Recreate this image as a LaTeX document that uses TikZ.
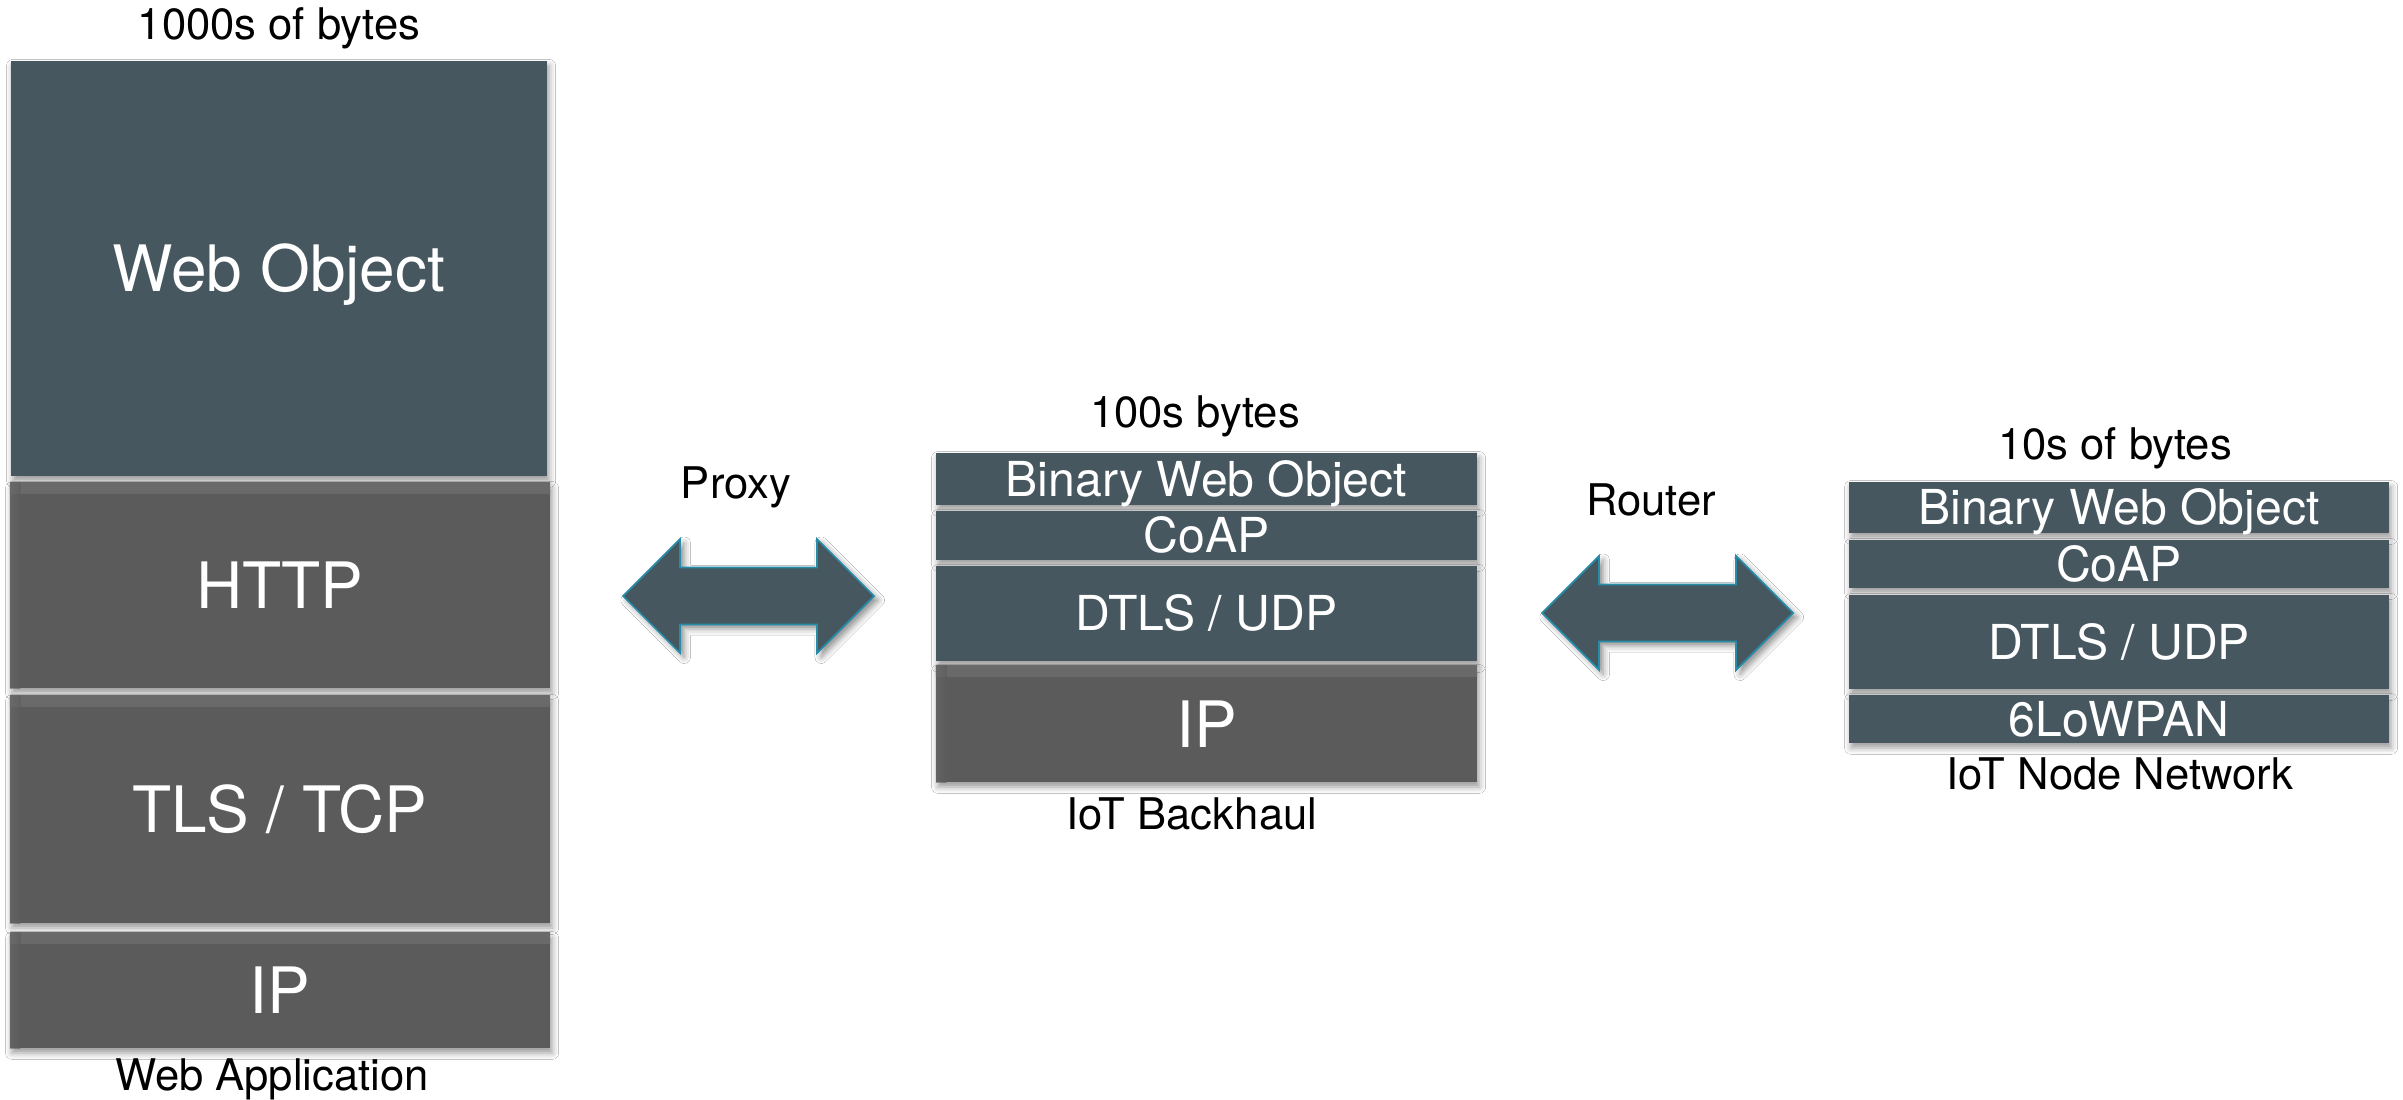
\documentclass[tikz,border=0pt]{standalone}
\usepackage{fontspec}
\setmainfont{TeX Gyre Heros}
\usetikzlibrary{shadows.blur}
\definecolor{slate}{RGB}{70,87,95}
\definecolor{greylayer}{RGB}{91,91,91}
\definecolor{greyhi}{RGB}{106,106,106}
\definecolor{tealedge}{RGB}{38,140,168}

\begin{document}
\begin{tikzpicture}[x=0.01cm,y=-0.01cm,
  softshadow/.style={blur shadow={shadow xshift=0.6pt, shadow yshift=-1.4pt,
      shadow blur radius=1.8pt, shadow opacity=40}},
  layer/.style={rectangle, inner sep=0pt, text=white, text depth=0pt, softshadow},
  slatelayer/.style={layer, fill=slate},
  greylayerbox/.style={layer, fill=greylayer,
    path picture={
      \shade[top color=greyhi, bottom color=greylayer]
        (path picture bounding box.north west) rectangle ([yshift=-3pt]path picture bounding box.north east);
      \shade[left color=greyhi, right color=greylayer, fill opacity=0.6]
        (path picture bounding box.north west) rectangle ([xshift=3pt]path picture bounding box.south west);
    }},
  bigtext/.style={font=\fontsize{18.2}{21}\selectfont, text height=13.1pt},
  midtext/.style={font=\fontsize{13.7}{16}\selectfont, text height=9.8pt},
  caption/.style={font=\fontsize{12.4}{15}\selectfont, anchor=base, text=black, inner sep=0pt},
  linkarrow/.style={fill=slate, draw=tealedge, line width=0.5pt, line join=miter,
      blur shadow={shadow xshift=1.2pt, shadow yshift=-1.2pt, shadow blur radius=1.8pt, shadow opacity=45}},
  dblarrow/.pic={
    \draw[linkarrow] (-125.5,0) -- (-68.5,-57) -- (-68.5,-28.5) -- (68.5,-28.5)
      -- (68.5,-57) -- (125.5,0) -- (68.5,57) -- (68.5,28.5) -- (-68.5,28.5)
      -- (-68.5,57) -- cycle;
  }
]
\fill[white] (0,0) rectangle (2403,1100);
\useasboundingbox (0,0) rectangle (2403,1100);

% Web application stack
\node[caption] (bytesweb) at (279,40) {1000s of bytes};
\node[slatelayer, bigtext, minimum width=5.36cm, minimum height=4.15cm] (webobj) at (279,268.5) {Web Object};
\node[greylayerbox, bigtext, minimum width=5.40cm, minimum height=2.05cm] (http) at (280,585.5) {HTTP};
\node[greylayerbox, bigtext, minimum width=5.40cm, minimum height=2.27cm] (tls) at (280,809.5) {TLS / TCP};
\node[greylayerbox, bigtext, minimum width=5.40cm, minimum height=1.15cm] (ipweb) at (280,990.5) {IP};
\node[caption] (webapp) at (272,1090) {Web Application};

% Backhaul stack
\node[caption] (bytesback) at (1195,427) {100s bytes};
\node[slatelayer, midtext, minimum width=5.41cm, minimum height=0.52cm] (bwoback) at (1206.5,479) {Binary Web Object};
\node[slatelayer, midtext, minimum width=5.41cm, minimum height=0.49cm] (coapback) at (1206.5,535.5) {CoAP};
\node[slatelayer, midtext, minimum width=5.41cm, minimum height=0.95cm] (dtlsback) at (1206.5,613.5) {DTLS / UDP};
\node[greylayerbox, bigtext, minimum width=5.41cm, minimum height=1.16cm] (ipback) at (1206.5,724) {IP};
\node[caption] (backhaul) at (1192,829) {IoT Backhaul};

% Node network stack
\node[caption] (bytesnode) at (2115,459) {10s of bytes};
\node[slatelayer, midtext, minimum width=5.40cm, minimum height=0.51cm] (bwonode) at (2119,507.5) {Binary Web Object};
\node[slatelayer, midtext, minimum width=5.40cm, minimum height=0.48cm] (coapnode) at (2119,564) {CoAP};
\node[slatelayer, midtext, minimum width=5.40cm, minimum height=0.94cm] (dtlsnode) at (2119,642) {DTLS / UDP};
\node[slatelayer, midtext, minimum width=5.40cm, minimum height=0.48cm] (lowpan) at (2119,719) {6LoWPAN};
\node[caption] (nodenet) at (2120,789) {IoT Node Network};

% Translation points between the stacks
\node[caption] (proxylbl) at (736,498) {Proxy};
\pic (proxyarrow) at (748.5,596) {dblarrow};
\node[caption] (routerlbl) at (1651,515) {Router};
\pic (routerarrow) at (1667.5,613) {dblarrow};
\end{tikzpicture}
\end{document}
